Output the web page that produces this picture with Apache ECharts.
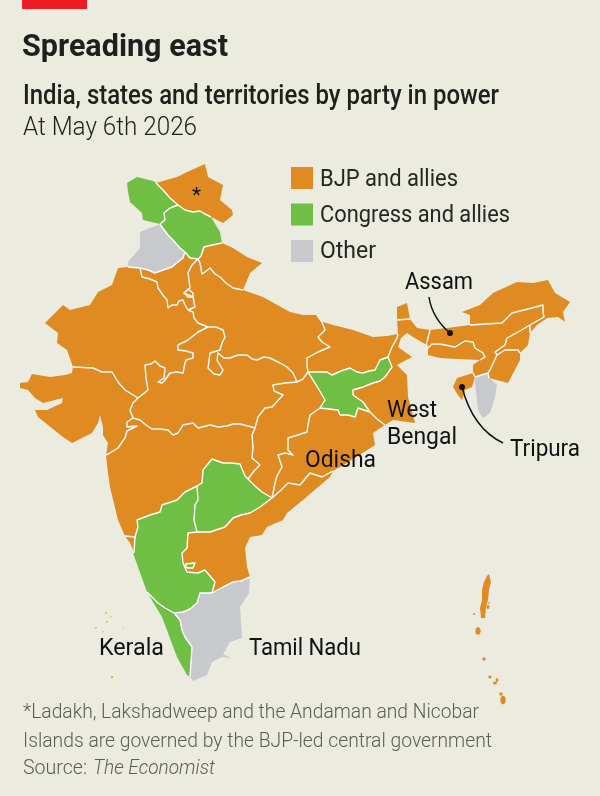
<!DOCTYPE html>
<html lang="en">
<head>
    <meta charset="UTF-8">
    <title>Spreading east</title>
    <script src="https://cdn.jsdelivr.net/npm/echarts@6/dist/echarts.min.js"></script>
    <style>
        html,body{margin:0;padding:0;background:#ebebe0;}
        #main{width:600px;height:796px;}
    </style>
</head>
<body>
    <div id="main"></div>
    <script>
        // party of each state
        var bjpStates = ['Ladakh','Uttarakhand','Haryana','Delhi','Rajasthan','Uttar Pradesh','Madhya Pradesh','Gujarat','Maharashtra','Goa','Andhra Pradesh','Chhattisgarh','Odisha','Bihar','West Bengal','Sikkim','Assam','Meghalaya','Arunachal Pradesh','Nagaland','Manipur','Tripura','Lakshadweep','Andaman and Nicobar'];
        var congressStates = ['Jammu and Kashmir','Himachal Pradesh','Karnataka','Bangalore enclave','Kerala','Telangana','Jharkhand'];
        var otherStates = ['Punjab','Tamil Nadu','Mizoram'];
        var partyNames = ['BJP and allies','Congress and allies','Other'];
        var partyColors = ['#e08a22','#6fbf44','#c8c9cc'];

        // shared state borders (drawn in white)
        var borders = {
            jk_la:[[156,183],[163,190],[170,198],[178,205]],
            jk_hp:[[178,205],[170,208],[164,213],[165,220],[160,224]],
            la_hp:[[178,205],[185,210],[193,212],[200,211],[205,214],[211,217]],
            hp_uk:[[222,243],[212,245],[204,247],[201,256],[198,259]],
            pb_hp:[[160,224],[162,227],[168,235],[173,240],[180,248],[185,252]],
            hr_hp:[[185,252],[190,258],[198,259]],
            uk_up:[[198,259],[200,263],[202,274],[205,272],[210,268],[215,274],[220,277],[226,283],[233,288],[243,290]],
            hr_up:[[198,259],[192,265],[188,273],[189,280],[190,288],[184,293],[193,297],[195,307],[188,310]],
            pb_raj:[[128,267],[140,268]],
            pb_hr:[[185,252],[183,258],[178,262],[172,267],[163,270],[155,273],[148,270],[140,268]],
            hr_raj:[[140,268],[142,277],[150,279],[157,282],[158,288],[163,295],[167,300],[168,308],[172,305],[177,305],[179,301],[183,300],[185,305],[188,310]],
            raj_up:[[188,310],[193,312],[194,318],[198,323],[208,327]],
            raj_mp:[[208,327],[198,332],[188,340],[178,345],[178,350],[186,351],[193,353],[193,358],[186,360],[185,363],[183,373],[177,372],[170,373],[165,380],[162,383],[158,382],[164,378],[165,368],[160,366],[155,361],[151,364],[145,365],[146,378],[148,390],[143,394],[138,398]],
            raj_guj:[[73,367],[93,368],[102,372],[112,372],[118,382],[125,390],[138,398]],
            mp_guj:[[138,398],[133,403],[130,410],[133,418]],
            mp_mh:[[133,418],[140,420],[146,425],[152,429],[160,429],[168,430],[173,435],[178,433],[183,425],[193,423],[198,428],[210,425],[218,427],[227,426],[233,424],[240,424],[248,426],[255,428]],
            mp_cg:[[255,428],[258,417],[265,408],[272,407],[283,395],[274,391],[273,385],[285,383],[297,382]],
            mp_up:[[208,327],[216,327],[223,330],[225,337],[222,343],[220,350],[210,353],[208,368],[214,374],[220,375],[223,370],[217,360],[218,353],[224,358],[230,358],[238,355],[247,355],[252,359],[257,360],[264,357],[270,358],[280,363],[287,367],[293,373],[297,382]],
            up_cg:[[297,382],[303,379],[308,372]],
            up_bi:[[317,315],[322,322],[325,330],[318,337],[322,342],[330,347],[318,352],[307,358],[307,365],[308,372]],
            bi_jh:[[308,372],[327,372],[332,375],[341,371],[350,368],[357,372],[363,373],[369,371],[375,370],[380,360],[388,357]],
            bi_wb:[[388,357],[392,347],[397,338],[398,334]],
            jh_cg:[[308,372],[313,380],[318,388],[325,400],[320,408]],
            jh_or:[[320,408],[329,409],[338,410],[340,415],[348,415],[355,417],[358,408],[370,412]],
            jh_wb:[[370,412],[363,402],[353,395],[353,390],[363,387],[373,383],[380,381],[385,377],[392,367],[388,357]],
            wb_or:[[370,412],[377,419],[385,425]],
            cg_or:[[320,408],[310,415],[308,425],[307,432],[298,435],[288,438],[288,450],[293,455],[285,453],[278,455],[282,467],[277,476],[275,483],[272,498]],
            cg_mh:[[255,428],[252,435],[253,447],[252,458],[260,465],[254,471],[248,479]],
            cg_tg:[[248,479],[255,486],[262,492],[272,498]],
            or_ap:[[272,498],[280,491],[288,483],[300,485],[310,473],[322,477],[333,471]],
            ap_tg:[[272,498],[260,507],[250,513],[241,515],[233,518],[225,527],[210,532],[197,532]],
            tg_mh:[[248,479],[245,476],[240,464],[231,463],[223,463],[212,459],[203,470],[202,483],[197,486]],
            tg_ka:[[197,486],[198,500],[195,505],[194,520],[197,532]],
            ka_ap:[[197,532],[188,533],[187,548],[182,553],[183,563],[187,572],[198,573],[205,570],[215,582],[212,593]],
            ap_tn:[[212,593],[223,587],[233,582],[241,581],[250,577]],
            ka_tn:[[212,593],[200,593],[197,603],[190,609],[183,612],[174,613]],
            ka_kl:[[147,592],[158,603],[165,608],[174,613]],
            kl_tn:[[174,613],[180,620],[182,630],[185,637],[192,647],[191,662],[190,677]],
            ka_mh:[[197,486],[185,492],[177,500],[162,505],[160,512],[150,515],[137,520],[138,527],[135,537]],
            mh_goa:[[125,536],[135,537]],
            ka_goa:[[135,537],[134,552],[133,553]],
            gu_mh:[[133,418],[127,422],[127,427],[137,426],[127,431],[125,438],[122,442],[118,448],[110,453],[106,455]],
            wb_sk:[[397,320],[410,319]],
            wb_as:[[430,330],[427,342]],
            as_ml:[[428,348],[432,344],[440,344],[455,347],[465,341],[473,342],[475,348],[483,353],[485,357],[480,360]],
            as_tr:[[473,373],[475,377]],
            as_mz:[[475,377],[488,373]],
            as_mn:[[488,373],[490,370],[497,355]],
            as_ng:[[497,355],[495,352],[505,345],[507,338],[518,332],[530,325]],
            as_ar:[[530,325],[544,317],[543,312],[543,305],[528,309],[512,313],[502,323],[486,324],[470,325]],
            ar_ng:[[530,325],[530,333]],
            ng_mn:[[497,355],[505,350],[518,350],[520,353]],
            mn_mz:[[488,373],[489,378]]
        };
        // outer edges, no white line on these
        var coasts = {
            la_out:[[156,183],[177,177],[187,172],[205,164],[208,177],[223,185],[220,200],[232,210],[233,215],[223,223],[211,217]],
            jk_out:[[156,183],[153,181],[137,177],[127,183],[128,192],[130,202],[142,213],[143,220],[160,224]],
            hp_out:[[211,217],[220,232],[222,243]],
            pb_out:[[160,224],[140,232],[140,248],[128,262],[128,267]],
            uk_out:[[222,243],[233,248],[247,257],[262,263],[250,273],[243,290]],
            raj_out:[[128,267],[118,268],[112,285],[98,292],[90,305],[70,310],[63,305],[53,315],[45,323],[58,333],[57,343],[67,350],[73,367]],
            up_out:[[243,290],[263,297],[290,312],[303,315],[317,315]],
            gu_out:[[73,367],[72,373],[65,375],[50,377],[32,374],[28,382],[20,383],[20,388],[28,390],[35,398],[43,403],[55,400],[63,398],[62,403],[47,410],[35,410],[38,417],[63,437],[72,443],[92,433],[98,423],[100,415],[103,427],[103,435],[108,443],[106,455]],
            mh_out:[[106,455],[108,473],[110,487],[118,520],[125,536]],
            goa_out:[[125,536],[130,543],[133,553]],
            ka_out:[[133,553],[147,592]],
            kl_out:[[147,592],[162,617],[177,657],[187,675],[190,677]],
            tn_out:[[250,577],[249,593],[240,607],[242,638],[230,642],[223,654],[231,658],[222,657],[212,662],[207,675],[193,681],[190,677]],
            ap_out:[[333,471],[330,477],[317,488],[303,500],[287,513],[283,520],[267,527],[262,535],[250,537],[245,548],[247,567],[250,577]],
            or_out:[[333,471],[347,463],[375,445],[373,433],[385,425]],
            bi_top:[[317,315],[323,322],[333,325],[353,330],[373,337],[387,336],[398,334]],
            wb_neck:[[398,334],[397,320]],
            wb_nth:[[410,319],[417,328],[430,330]],
            wb_out:[[427,342],[425,344],[413,337],[407,333],[401,338],[398,347],[412,357],[397,365],[407,375],[408,397],[415,423],[393,420],[385,425]],
            sk_out:[[410,319],[407,303],[397,307],[397,320]],
            as_bhu:[[470,325],[447,328],[430,330]],
            as_w:[[427,342],[428,348]],
            as_s:[[480,360],[473,365],[473,373]],
            ml_out:[[428,348],[428,355],[440,358],[457,359],[480,360]],
            ar_out:[[470,325],[470,315],[462,312],[480,305],[493,293],[517,282],[533,283],[548,280],[555,293],[570,302],[563,312],[565,322],[558,317],[547,318],[537,325],[530,333]],
            ng_out:[[530,333],[528,345],[520,353]],
            mn_out:[[520,353],[520,360],[508,383],[489,378]],
            mz_out:[[489,378],[497,385],[495,397],[492,407],[490,413],[483,418],[478,410],[476,393],[475,377]],
            tr_out:[[475,377],[472,387],[465,390],[462,400],[458,395],[453,387],[457,378],[473,373]]
        };
        // each state is a ring of the pieces above, "-" means walk it backwards
        var stateRings = {
            'Ladakh':['la_out','-la_hp','-jk_la'],
            'Jammu and Kashmir':['jk_la','jk_hp','-jk_out'],
            'Himachal Pradesh':['-jk_hp','la_hp','hp_out','hp_uk','-hr_hp','-pb_hp'],
            'Punjab':['pb_hp','pb_hr','-pb_raj','-pb_out'],
            'Haryana':['hr_hp','hr_up','-hr_raj','-pb_hr'],
            'Uttarakhand':['-hp_uk','uk_out','-uk_up'],
            'Rajasthan':['pb_raj','hr_raj','raj_up','raj_mp','-raj_guj','-raj_out'],
            'Uttar Pradesh':['uk_up','up_out','up_bi','-up_cg','-mp_up','-raj_up','-hr_up'],
            'Madhya Pradesh':['mp_up','-mp_cg','-mp_mh','-mp_guj','-raj_mp'],
            'Gujarat':['raj_guj','mp_guj','gu_mh','-gu_out'],
            'Maharashtra':['mp_mh','cg_mh','tg_mh','ka_mh','-mh_goa','-mh_out','-gu_mh'],
            'Goa':['mh_goa','ka_goa','-goa_out'],
            'Karnataka':['-ka_mh','tg_ka','ka_ap','ka_tn','-ka_kl','-ka_out','-ka_goa'],
            'Kerala':['ka_kl','kl_tn','-kl_out'],
            'Tamil Nadu':['-ka_tn','ap_tn','tn_out','-kl_tn'],
            'Andhra Pradesh':['or_ap','ap_out','-ap_tn','-ka_ap','-ap_tg'],
            'Telangana':['cg_tg','ap_tg','-tg_ka','-tg_mh'],
            'Chhattisgarh':['up_cg','jh_cg','cg_or','-cg_tg','-cg_mh','mp_cg'],
            'Odisha':['jh_or','wb_or','-or_out','-or_ap','-cg_or'],
            'Jharkhand':['bi_jh','-jh_wb','-jh_or','-jh_cg'],
            'Bihar':['bi_top','-bi_wb','-bi_jh','-up_bi'],
            'West Bengal':['jh_wb','bi_wb','wb_neck','wb_sk','wb_nth','wb_as','wb_out','-wb_or'],
            'Sikkim':['wb_sk','sk_out'],
            'Assam':['as_bhu','wb_as','as_w','as_ml','as_s','as_tr','as_mz','as_mn','as_ng','as_ar'],
            'Meghalaya':['as_ml','-ml_out'],
            'Arunachal Pradesh':['ar_out','-ar_ng','as_ar'],
            'Nagaland':['-as_ng','ng_mn','-ng_out','-ar_ng'],
            'Manipur':['-ng_mn','-as_mn','mn_mz','-mn_out'],
            'Mizoram':['as_mz','mn_mz','mz_out'],
            'Tripura':['as_tr','tr_out']
        };
        // small pieces that don't share edges with the walk above
        var delhiRing = [[184,293],[188,289],[193,293],[193,297],[188,297]];
        var enclaveRing = [[185,564],[195,563],[193,568],[187,568]];
        var andamanMain = [[489,574],[491,582],[489,590],[488,600],[486,607],[485,618],[481,618],[480,608],[482,600],[482,590],[484,582],[487,576]];
        // islands as [x, y, half width, half height]
        var andamanIslands = [[478,631,2.8,4],[484,659,1.8,1.8],[490,677,1.6,1.6],[495,683,2,1.6],[497,680,1.4,2.5],[501,694,1.8,1.8],[503,700,2.8,4.5],[474,614,1.2,1.2],[488,607,1.5,2],[489,603,1,1.2]];
        var lakshadweepIslands = [[106,613,0.9,0.9],[111,617,0.8,0.8],[107,622,1,1],[96,628,1,1],[103,632,0.8,0.8],[123,628,0.7,0.7],[112,677,1.2,1.2]];

        // text: string, x, baseline, width on the picture, size, weight, colour
        var textItems = [
            ['Spreading east',22,55,206,32,700,'#1f1f1c'],
            ['India, states and territories by party in power',23,103,476,27,500,'#1f1f1c'],
            ['At May 6th 2026',23,134,174,26,300,'#1f1f1c'],
            ['BJP and allies',320,185,138,23.5,400,'#262623'],
            ['Congress and allies',320,221,190,23.5,400,'#262623'],
            ['Other',320,257,56,23.5,400,'#262623'],
            ['Assam',405,288,68,23.5,400,'#111'],
            ['West',387,416,50,23.5,400,'#111'],
            ['Bengal',387,443,70,23.5,400,'#111'],
            ['Odisha',305,466,71,23.5,400,'#111'],
            ['Tripura',510,455,70,23.5,400,'#111'],
            ['Kerala',99,654,65,23.5,400,'#111'],
            ['Tamil Nadu',249,654,112,23.5,400,'#111'],
            ['*',192,201,9,20,400,'#111'],
            ['*Ladakh, Lakshadweep and the Andaman and Nicobar',23,717,456,21,300,'#5c5c58'],
            ['Islands are governed by the BJP-led central government',23,746,469,21,300,'#5c5c58'],
            ['Source:',23,773,64,21,300,'#5c5c58']
        ];
        var italicSource = ['The Economist',93,773,122,21,300,'#5c5c58'];

        function walk(name){
            var back = name.charAt(0) == '-';
            var key = back ? name.slice(1) : name;
            var pts = (borders[key] || coasts[key]).slice();
            return back ? pts.reverse() : pts;
        }
        function ring(parts){
            var out = [];
            parts.forEach(function(p){ out = out.concat(walk(p)); });
            out.push(out[0]);
            return out;
        }
        function closed(pts){ return pts.concat([pts[0]]); }
        function blob(b){
            var pts = [];
            for(var i = 0; i < 8; i++){
                var a = i * Math.PI / 4;
                pts.push([b[0] + b[2] * Math.cos(a), b[1] + b[3] * Math.sin(a)]);
            }
            return closed(pts);
        }

        var features = [];
        function addFeature(name, rings){
            features.push({type:'Feature',properties:{name:name},geometry:{type:'MultiPolygon',coordinates:rings.map(function(r){return [r];})}});
        }
        Object.keys(stateRings).forEach(function(name){
            addFeature(name, [ring(stateRings[name])]);
        });
        addFeature('Delhi', [closed(delhiRing)]);
        addFeature('Bangalore enclave', [closed(enclaveRing)]);
        addFeature('Andaman and Nicobar', [closed(andamanMain)].concat(andamanIslands.map(blob)));
        addFeature('Lakshadweep', lakshadweepIslands.map(blob));
        echarts.registerMap('india', {type:'FeatureCollection',features:features});

        var mapData = [];
        [bjpStates, congressStates, otherStates].forEach(function(list, i){
            list.forEach(function(n){
                mapData.push({name:n, value:i, itemStyle:{borderColor:partyColors[i], borderWidth:0.4}});
            });
        });
        var borderLines = Object.keys(borders).map(function(k){ return {coords:borders[k]}; });
        // loops that sit inside a state
        borderLines.push({coords:closed(delhiRing)});
        borderLines.push({coords:closed(enclaveRing)});

        var measure = document.createElement('canvas').getContext('2d');
        function fitText(t, italic){
            var font = (italic ? 'italic ' : '') + t[5] + ' ' + t[4] + 'px Roboto';
            measure.font = font;
            return {
                type:'text', x:t[1], y:t[2] - t[4] * 0.72, scaleX:t[3] / measure.measureText(t[0]).width, z:50, silent:true,
                style:{text:t[0], font:font, fill:t[6], verticalAlign:'top'}
            };
        }
        var graphics = textItems.map(function(t){ return fitText(t, false); });
        graphics.push(fitText(italicSource, true));
        graphics.push({type:'rect', shape:{x:22,y:0,width:65,height:9}, style:{fill:'#ef1c25'}, silent:true});
        // leader lines
        graphics.push({type:'bezierCurve', z:40, silent:true, shape:{x1:429,y1:297,cpx1:431,cpy1:312,cpx2:440,cpy2:325,x2:450,y2:333}, style:{stroke:'#111',lineWidth:1.5,fill:null}});
        graphics.push({type:'bezierCurve', z:40, silent:true, shape:{x1:462,y1:387,cpx1:468,cpy1:410,cpx2:480,cpy2:432,x2:503,y2:443}, style:{stroke:'#111',lineWidth:1.5,fill:null}});
        graphics.push({type:'circle', z:40, silent:true, shape:{cx:450,cy:333,r:3}, style:{fill:'#111'}});
        graphics.push({type:'circle', z:40, silent:true, shape:{cx:462,cy:387,r:3}, style:{fill:'#111'}});

        var myChart = echarts.init(document.getElementById('main'), null, {renderer:'canvas'});
        var option = {
            backgroundColor:'#ebebe0',
            animation:false,
            geo:{
                map:'india',
                projection:{project:function(p){return p;}, unproject:function(p){return p;}},
                boundingCoords:[[0,0],[600,796]],
                left:0, top:0, width:600, height:796,
                roam:false, silent:true,
                label:{show:false},
                itemStyle:{borderWidth:0, areaColor:partyColors[0]}
            },
            visualMap:{
                type:'piecewise',
                seriesIndex:0,
                left:276, top:152,
                orient:'vertical',
                inverse:true,
                itemWidth:22, itemHeight:22, itemGap:14.5,
                itemSymbol:'rect',
                showLabel:false,
                selectedMode:false,
                hoverLink:false,
                pieces:partyNames.map(function(n, i){ return {value:i, label:n, color:partyColors[i]}; })
            },
            series:[
                {type:'map', geoIndex:0, data:mapData, silent:true},
                {type:'lines', coordinateSystem:'geo', polyline:true, silent:true, zlevel:0, z:5,
                    lineStyle:{color:'#ffffff', width:1.4, opacity:1, join:'round'}, data:borderLines}
            ],
            graphic:graphics
        };
        myChart.setOption(option);
    </script>
</body>
</html>
